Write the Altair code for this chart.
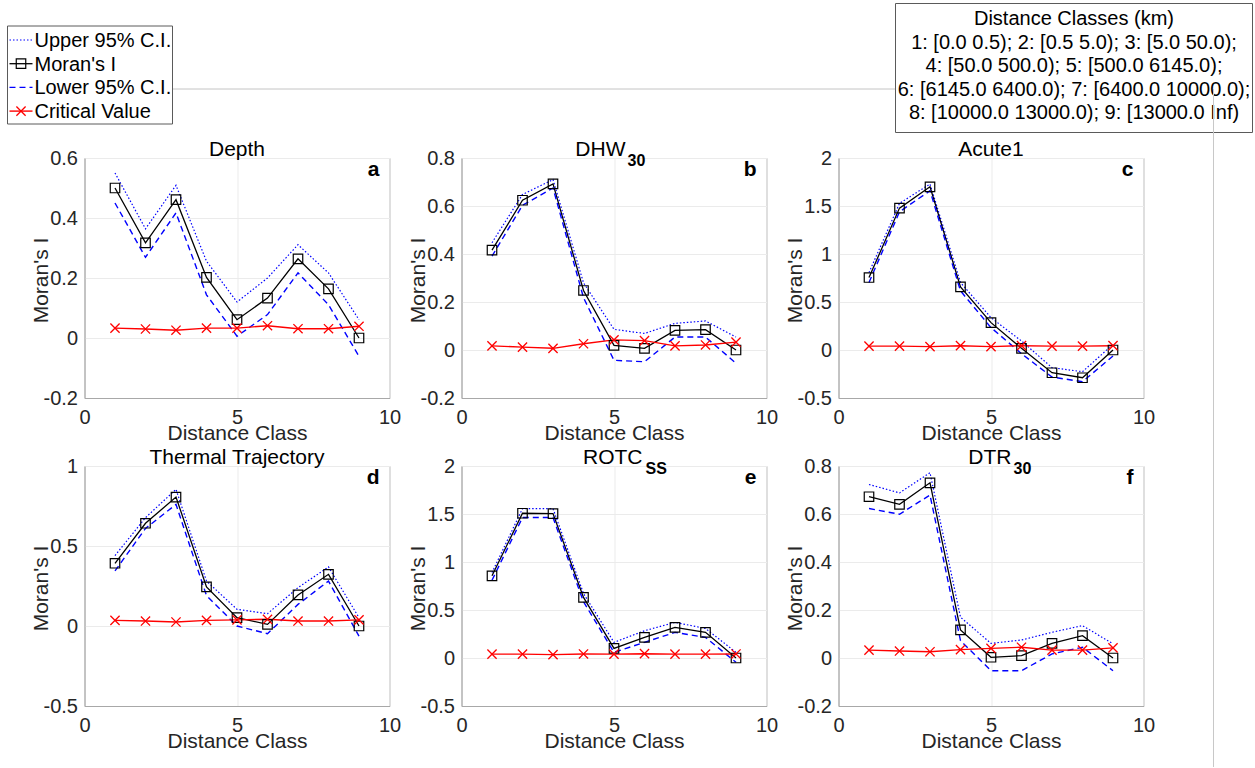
import altair as alt
import pandas as pd

# ---------------- data ----------------
classes = [1, 2, 3, 4, 5, 6, 7, 8, 9]

titles = ["Depth", "DHW", "Acute1", "Thermal Trajectory", "ROTC", "DTR"]
subscripts = ["", "30", "", "", "SS", "30"]
letters = ["a", "b", "c", "d", "e", "f"]

upper_a = [0.55, 0.364, 0.509, 0.256, 0.12, 0.20, 0.311, 0.217, 0.061]
moran_a = [0.50, 0.317, 0.461, 0.202, 0.061, 0.133, 0.264, 0.164, 0.0]
lower_a = [0.45, 0.269, 0.417, 0.144, 0.006, 0.078, 0.217, 0.111, -0.061]
crit_a = [0.033, 0.030, 0.026, 0.033, 0.033, 0.041, 0.031, 0.031, 0.039]

upper_b = [0.447, 0.648, 0.71, 0.28, 0.086, 0.069, 0.111, 0.121, 0.054]
moran_b = [0.416, 0.624, 0.692, 0.248, 0.019, 0.007, 0.082, 0.085, 0.0]
lower_b = [0.391, 0.603, 0.675, 0.218, -0.043, -0.049, 0.054, 0.054, -0.055]
crit_b = [0.017, 0.012, 0.007, 0.026, 0.042, 0.039, 0.017, 0.021, 0.033]

upper_c = [0.807, 1.527, 1.729, 0.703, 0.337, 0.094, -0.184, -0.226, 0.059]
moran_c = [0.755, 1.478, 1.70, 0.657, 0.285, 0.017, -0.237, -0.289, 0.0]
lower_c = [0.703, 1.44, 1.659, 0.616, 0.233, -0.038, -0.282, -0.33, -0.063]
crit_c = [0.04, 0.04, 0.035, 0.045, 0.035, 0.045, 0.04, 0.04, 0.045]

upper_d = [0.44, 0.677, 0.854, 0.281, 0.104, 0.077, 0.24, 0.369, 0.052]
moran_d = [0.392, 0.642, 0.806, 0.244, 0.052, 0.01, 0.194, 0.323, 0.0]
lower_d = [0.344, 0.61, 0.76, 0.19, 0.0, -0.048, 0.135, 0.281, -0.063]
crit_d = [0.035, 0.031, 0.025, 0.035, 0.038, 0.042, 0.031, 0.031, 0.038]

upper_e = [0.89, 1.556, 1.556, 0.672, 0.163, 0.284, 0.371, 0.308, 0.059]
moran_e = [0.856, 1.508, 1.504, 0.631, 0.10, 0.215, 0.319, 0.267, 0.0]
lower_e = [0.81, 1.463, 1.463, 0.586, 0.059, 0.163, 0.267, 0.215, -0.045]
crit_e = [0.04, 0.04, 0.035, 0.042, 0.04, 0.045, 0.04, 0.04, 0.042]

upper_f = [0.723, 0.688, 0.772, 0.17, 0.061, 0.075, 0.107, 0.135, 0.059]
moran_f = [0.672, 0.64, 0.73, 0.117, 0.003, 0.01, 0.061, 0.093, 0.0]
lower_f = [0.623, 0.599, 0.679, 0.072, -0.053, -0.053, 0.017, 0.045, -0.053]
crit_f = [0.033, 0.029, 0.026, 0.035, 0.04, 0.045, 0.033, 0.033, 0.042]

uppers = [upper_a, upper_b, upper_c, upper_d, upper_e, upper_f]
morans = [moran_a, moran_b, moran_c, moran_d, moran_e, moran_f]
lowers = [lower_a, lower_b, lower_c, lower_d, lower_e, lower_f]
crits = [crit_a, crit_b, crit_c, crit_d, crit_e, crit_f]

y_domains = [[-0.2, 0.6], [-0.2, 0.8], [-0.5, 2], [-0.5, 1], [-0.5, 2], [-0.2, 0.8]]
y_ticks = [
    [-0.2, 0, 0.2, 0.4, 0.6],
    [-0.2, 0, 0.2, 0.4, 0.6, 0.8],
    [-0.5, 0, 0.5, 1, 1.5, 2],
    [-0.5, 0, 0.5, 1],
    [-0.5, 0, 0.5, 1, 1.5, 2],
    [-0.2, 0, 0.2, 0.4, 0.6, 0.8],
]
x_domain = [0, 10]
x_ticks = [0, 5, 10]

series_keys = ["upper", "moran", "lower", "critical"]
legend_labels = ["Upper 95% C.I.", "Moran's I", "Lower 95% C.I.", "Critical Value"]

class_box_lines = [
    "Distance Classes (km)",
    "1: [0.0 0.5); 2: [0.5 5.0); 3: [5.0 50.0);",
    "4: [50.0 500.0); 5: [500.0 6145.0);",
    "6: [6145.0 6400.0); 7: [6400.0 10000.0);",
    "8: [10000.0 13000.0); 9: [13000.0 Inf)",
]

# ---------------- style ----------------
W, H = 305, 240
FONT = "Liberation Sans"
FRAME = "#a8a8a8"
GRID = "#ebebeb"
TXT = "#262626"
X_PATH = "M-1,-1L1,1M-1,1L1,-1"

line_styles = {
    "upper": dict(color="#0000ff", strokeDash=[1.5, 2], strokeWidth=1.2),
    "moran": dict(color="#000000", strokeWidth=1.3),
    "lower": dict(color="#0000ff", strokeDash=[6, 4], strokeWidth=1.4),
    "critical": dict(color="#ff0000", strokeWidth=1.4),
}
square_style = dict(shape="square", size=90, filled=False, color="#000000", strokeWidth=1.2, opacity=1)
cross_style = dict(shape=X_PATH, size=85, filled=False, color="#ff0000", strokeWidth=1.3, opacity=1)

# title anchor positions (main right edge, subscript left edge) for subscripted titles
title_pos = {1: (164, 166), 4: (181, 184), 5: (173, 175)}

Y_LABEL_EXPR = ("datum.value < 0 ? '-' + format(-datum.value, '.1~f') "
                ": format(datum.value, '.1~f')")


def one_row(**kw):
    return pd.DataFrame({k: [v] for k, v in (kw or {"k": 0}).items()})


def panel(i):
    vals = uppers[i] + morans[i] + lowers[i] + crits[i]
    ser = sum([[s] * len(classes) for s in series_keys], [])
    df = pd.DataFrame({"cls": classes * 4, "val": vals, "series": ser})

    xenc = alt.X(
        "cls:Q",
        scale=alt.Scale(domain=x_domain, nice=False, zero=False),
        axis=alt.Axis(
            values=x_ticks, title="Distance Class", grid=True, labelFlush=False,
            labelBaseline="alphabetic", labelPadding=25, titleY=41,
            titleBaseline="alphabetic", labelOverlap=False,
        ),
    )
    yenc = alt.Y(
        "val:Q",
        scale=alt.Scale(domain=y_domains[i], nice=False, zero=False),
        axis=alt.Axis(
            values=y_ticks[i], title="Moran's I", grid=True, labelExpr=Y_LABEL_EXPR,
            labelPadding=7, titleX=-37, titleY=122, titleBaseline="alphabetic",
            labelOverlap=False,
        ),
    )
    base = alt.Chart(df).encode(x=xenc, y=yenc)
    layers = []
    for s in series_keys:
        layers.append(base.transform_filter(alt.datum.series == s).mark_line(**line_styles[s]))
    layers.append(base.transform_filter(alt.datum.series == "moran").mark_point(**square_style))
    layers.append(base.transform_filter(alt.datum.series == "critical").mark_point(**cross_style))

    # panel title (with optional bold subscript)
    tdf = pd.DataFrame({"t": [titles[i]]})
    if subscripts[i]:
        mx, sx = title_pos[i]
        layers.append(alt.Chart(tdf).mark_text(
            align="right", baseline="alphabetic", font=FONT, fontSize=21,
            fontWeight="normal", color="#000000"
        ).encode(x=alt.value(mx), y=alt.value(-2), text="t:N"))
        layers.append(alt.Chart(pd.DataFrame({"t": [subscripts[i]]})).mark_text(
            align="left", baseline="alphabetic", font=FONT, fontSize=16, fontWeight="bold",
            color="#000000"
        ).encode(x=alt.value(sx), y=alt.value(8), text="t:N"))
    else:
        layers.append(alt.Chart(tdf).mark_text(
            align="center", baseline="alphabetic", font=FONT, fontSize=21,
            fontWeight="normal", color="#000000"
        ).encode(x=alt.value(W / 2), y=alt.value(-2), text="t:N"))

    # panel letter
    layers.append(alt.Chart(pd.DataFrame({"t": [letters[i]]})).mark_text(
        align="right", baseline="alphabetic", font=FONT, fontSize=21, fontWeight="bold",
        color="#000000"
    ).encode(x=alt.value(295), y=alt.value(18), text="t:N"))

    if i == 0:
        # gray guide line from legend to the right
        layers.append(alt.Chart(one_row()).mark_rule(color="#c4c4c4", strokeWidth=1).encode(
            x=alt.value(88), x2=alt.value(1129), y=alt.value(-69)))
        # legend box
        layers.append(alt.Chart(one_row()).mark_rect(
            fill="white", stroke="#5a5a5a", strokeWidth=1).encode(
            x=alt.value(-77), x2=alt.value(88), y=alt.value(-132), y2=alt.value(-34)))
        for j, key in enumerate(series_keys):
            ly = -118 + 23.7 * j
            layers.append(alt.Chart(one_row()).mark_rule(**line_styles[key]).encode(
                x=alt.value(-75), x2=alt.value(-52), y=alt.value(ly)))
            if key == "moran":
                layers.append(alt.Chart(one_row()).mark_point(**square_style).encode(
                    x=alt.value(-63.5), y=alt.value(ly)))
            if key == "critical":
                layers.append(alt.Chart(one_row()).mark_point(**cross_style).encode(
                    x=alt.value(-63.5), y=alt.value(ly)))
            layers.append(alt.Chart(pd.DataFrame({"t": [legend_labels[j]]})).mark_text(
                align="left", baseline="alphabetic", font=FONT, fontSize=20,
                fontWeight="normal", color="#000000"
            ).encode(x=alt.value(-50), y=alt.value(ly + 7), text="t:N"))

    if i == 2:
        layers.append(alt.Chart(one_row()).mark_rect(
            fill="white", stroke="#5a5a5a", strokeWidth=1).encode(
            x=alt.value(57), x2=alt.value(414), y=alt.value(-154.5), y2=alt.value(-25.5)))
        for j, line in enumerate(class_box_lines):
            layers.append(alt.Chart(pd.DataFrame({"t": [line]})).mark_text(
                align="center", baseline="alphabetic", font=FONT, fontSize=20,
                fontWeight="normal", color="#000000"
            ).encode(x=alt.value(235.5), y=alt.value(-133 + 23.5 * j), text="t:N"))
        layers.append(alt.Chart(one_row()).mark_rule(color="#c8c8c8", strokeWidth=1).encode(
            x=alt.value(375), y=alt.value(-69), y2=alt.value(609)))

    return alt.layer(*layers).properties(width=W, height=H)


chart = alt.concat(
    *[panel(i) for i in range(6)],
    columns=3,
    spacing={"row": 68, "column": 72},
    bounds="flush",
).properties(
    padding={"left": 6.5, "top": 2, "right": 0, "bottom": 0},
    background="white",
).configure_view(
    stroke=FRAME, strokeWidth=1
).configure_axis(
    domainColor=FRAME, gridColor=GRID, gridWidth=1, ticks=False, tickSize=0,
    labelFont=FONT, labelFontSize=20, labelColor=TXT,
    titleFont=FONT, titleFontSize=21, titleFontWeight="normal", titleColor=TXT,
)

chart.save("out.html", embed_options={"renderer": "svg", "actions": False})
